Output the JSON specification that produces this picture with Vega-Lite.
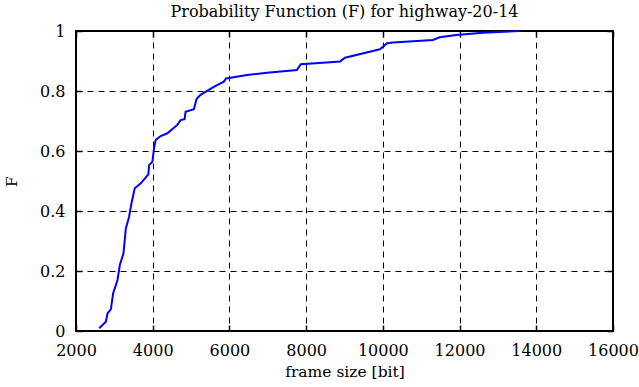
{
  "$schema": "https://vega.github.io/schema/vega-lite/v6.json",
  "width": 537,
  "height": 300,
  "autosize": "none",
  "padding": {"left": 76, "top": 31, "right": 26, "bottom": 56},
  "background": "white",
  "config": {
    "font": "DejaVu Serif",
    "view": {"stroke": "black", "strokeWidth": 2},
    "title": {"font": "DejaVu Serif", "fontSize": 16, "fontWeight": "normal", "color": "black", "offset": 3},
    "axis": {
      "labelFont": "DejaVu Serif", "labelFontSize": 16, "labelColor": "black",
      "titleFont": "DejaVu Serif", "titleFontSize": 15.5, "titleFontWeight": "normal", "titleColor": "black",
      "domain": false, "tickColor": "black", "tickWidth": 1.5, "tickSize": -6,
      "labelFlush": false, "labelOverlap": false,
      "gridColor": "black", "gridOpacity": 1, "gridDash": [6, 5], "gridWidth": 1
    }
  },
  "title": "Probability Function (F) for highway-20-14",
  "data": {
    "values": [
      {"x": 2605, "F": 0.009},
      {"x": 2779, "F": 0.031},
      {"x": 2823, "F": 0.059},
      {"x": 2909, "F": 0.072},
      {"x": 2969, "F": 0.126},
      {"x": 3082, "F": 0.17},
      {"x": 3143, "F": 0.22},
      {"x": 3238, "F": 0.259},
      {"x": 3299, "F": 0.342},
      {"x": 3385, "F": 0.381},
      {"x": 3446, "F": 0.426},
      {"x": 3532, "F": 0.476},
      {"x": 3688, "F": 0.492},
      {"x": 3887, "F": 0.522},
      {"x": 3905, "F": 0.553},
      {"x": 3992, "F": 0.564},
      {"x": 4034, "F": 0.609},
      {"x": 4078, "F": 0.637},
      {"x": 4208, "F": 0.65},
      {"x": 4381, "F": 0.659},
      {"x": 4641, "F": 0.687},
      {"x": 4727, "F": 0.703},
      {"x": 4831, "F": 0.706},
      {"x": 4857, "F": 0.731},
      {"x": 5073, "F": 0.739},
      {"x": 5143, "F": 0.773},
      {"x": 5247, "F": 0.787},
      {"x": 5592, "F": 0.814},
      {"x": 5852, "F": 0.831},
      {"x": 5914, "F": 0.842},
      {"x": 6460, "F": 0.853},
      {"x": 6979, "F": 0.861},
      {"x": 7758, "F": 0.87},
      {"x": 7862, "F": 0.889},
      {"x": 8623, "F": 0.896},
      {"x": 8883, "F": 0.898},
      {"x": 9013, "F": 0.911},
      {"x": 9922, "F": 0.939},
      {"x": 10112, "F": 0.959},
      {"x": 10268, "F": 0.962},
      {"x": 11307, "F": 0.97},
      {"x": 11481, "F": 0.979},
      {"x": 11914, "F": 0.987},
      {"x": 12606, "F": 0.994},
      {"x": 13558, "F": 1.0}
    ]
  },
  "layer": [
    {
      "mark": {"type": "line", "color": "#0000ff", "strokeWidth": 2},
      "encoding": {
        "x": {"field": "x", "type": "quantitative", "scale": {"domain": [2000, 16000], "nice": false},
              "axis": {"title": "frame size [bit]", "values": [2000,4000,6000,8000,10000,12000,14000,16000], "format": "d", "grid": true, "labelPadding": 17, "titlePadding": 6}},
        "y": {"field": "F", "type": "quantitative", "scale": {"domain": [0, 1], "nice": false},
              "axis": {"title": "F", "values": [0,0.2,0.4,0.6,0.8,1], "format": "~g", "grid": true, "labelPadding": 17, "titlePadding": 20}}
      }
    },
    {
      "mark": {"type": "line", "strokeOpacity": 0},
      "encoding": {
        "x": {"field": "x", "type": "quantitative",
              "axis": {"orient": "top", "title": null, "labels": false, "grid": false, "values": [2000,4000,6000,8000,10000,12000,14000,16000]}},
        "y": {"field": "F", "type": "quantitative",
              "axis": {"orient": "right", "title": null, "labels": false, "grid": false, "values": [0,0.2,0.4,0.6,0.8,1]}}
      }
    }
  ],
  "resolve": {"axis": {"x": "independent", "y": "independent"}}
}
